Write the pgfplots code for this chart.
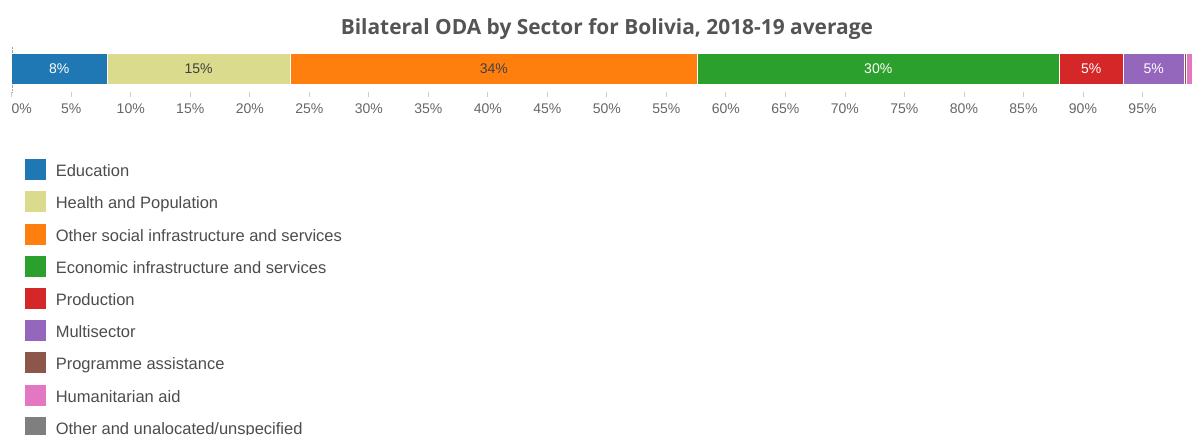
\documentclass[border=0pt]{standalone}
\usepackage{pgfplots}
\pgfplotsset{compat=1.18}
\usepackage{fontspec}
\setmainfont{Liberation Sans}
\newfontfamily\titlefont{Open Sans}

\definecolor{cEdu}{HTML}{1F77B4}
\definecolor{cHea}{HTML}{DBDB8D}
\definecolor{cSoc}{HTML}{FF7F0E}
\definecolor{cEco}{HTML}{2CA02C}
\definecolor{cPro}{HTML}{D62728}
\definecolor{cMul}{HTML}{9467BD}
\definecolor{cPrg}{HTML}{8C564B}
\definecolor{cHum}{HTML}{E377C2}
\definecolor{cOth}{HTML}{7F7F7F}

% stacked nodes near coords already sit in the middle of the segment
\pgfplotsset{
  seglabel/.style={
    nodes near coords={\pgfmathprintnumber[fixed,precision=0]{\pgfplotspointmeta}\%},
    every node near coord/.append style={anchor=center,
      font=\fontsize{14}{16}\selectfont, text=#1}
  }
}

\begin{document}
\begin{tikzpicture}[x=1pt,y=1pt]
\useasboundingbox (0,0) rectangle (1192,435);
\clip (0,0) rectangle (1192,435);
\begin{axis}[
  at={(11.7pt,343pt)}, anchor=south west,
  scale only axis, width=1190.3pt, height=45pt,
  xbar stacked, bar width=31pt,
  xmin=0, xmax=100, ymin=-23.5, ymax=21.5,
  enlargelimits=false,
  axis x line*=bottom, axis y line*=left,
  x axis line style={draw=none},
  y axis line style={draw=black!35, densely dotted},
  ytick=\empty,
  xtick={0,5,...,95},
  xticklabels={\rlap{0\%},5\%,10\%,15\%,20\%,25\%,30\%,35\%,40\%,45\%,50\%,55\%,60\%,65\%,70\%,75\%,80\%,85\%,90\%,95\%},
  /pgf/number format/assume math mode=true,
  tick align=outside, major tick length=5pt,
  xtick style={draw=black!20, line width=0.8pt},
  xticklabel style={font=\fontsize{14}{16}\selectfont, text=black!60, yshift=-3.5pt},
  title={Bilateral ODA by Sector for Bolivia, 2018-19 average},
  title style={font=\titlefont\bfseries\fontsize{20.9}{24}\selectfont, text=black!67,
    at={(0.5,1)}, anchor=base, yshift=6.7pt},
  legend style={at={(0,0)}, anchor=north west, xshift=12.3pt, yshift=-66pt,
    draw=none, fill=none, inner sep=0pt, row sep=9.6pt, column sep=9pt,
    nodes={inner sep=0pt}, font=\fontsize{16.5}{19}\selectfont, text=black!70},
  legend cell align=left,
  legend image code/.code={\fill[#1] (0pt,-9pt) rectangle (22pt,13pt);},
  every axis plot/.append style={draw=white, line width=0.6pt},
]
\addplot[fill=cEdu, seglabel=white] coordinates {(8.0,0)};
\addlegendentry{Education}
\addplot[fill=cHea, seglabel=black!75] coordinates {(15.4,0)};
\addlegendentry{Health and Population}
\addplot[fill=cSoc, seglabel=black!75] coordinates {(34.2,0)};
\addlegendentry{Other social infrastructure and services}
\addplot[fill=cEco, seglabel=white] coordinates {(30.4,0)};
\addlegendentry{Economic infrastructure and services}
\addplot[fill=cPro, seglabel=white] coordinates {(5.4,0)};
\addlegendentry{Production}
\addplot[fill=cMul, seglabel=white] coordinates {(5.1,0)};
\addlegendentry{Multisector}
\addplot[fill=cPrg] coordinates {(0.15,0)};
\addlegendentry{Programme assistance}
\addplot[fill=cHum] coordinates {(1.2,0)};
\addlegendentry{Humanitarian aid}
\addplot[fill=cOth] coordinates {(0.15,0)};
\addlegendentry{Other and unalocated/unspecified}
\end{axis}
\end{tikzpicture}
\end{document}
